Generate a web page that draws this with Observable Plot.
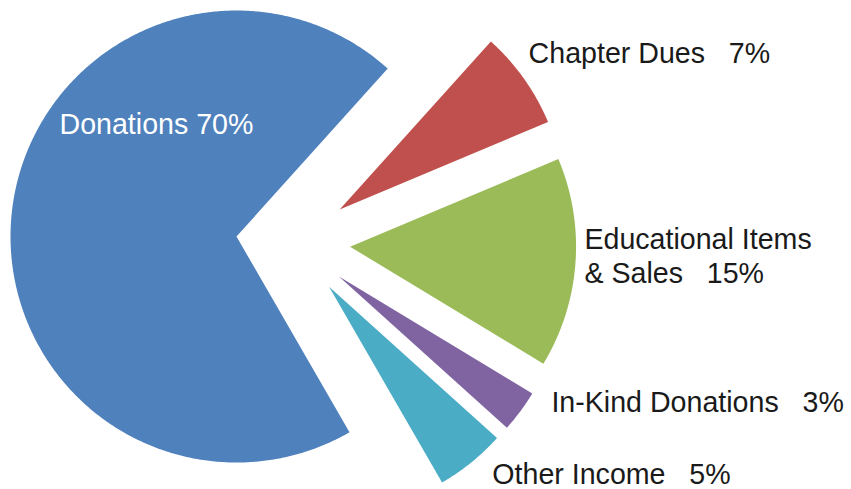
<!DOCTYPE html>
<html>
<head>
<meta charset="utf-8">
<script src="https://cdn.jsdelivr.net/npm/d3@7"></script>
<script src="https://cdn.jsdelivr.net/npm/@observablehq/plot@0.6"></script>
<style>
  html, body { margin: 0; padding: 0; background: #ffffff; }
  #chart svg { display: block; }
</style>
</head>
<body>
<div id="chart"></div>
<script>
// ---- data ----
const categories = ["Donations", "Chapter Dues", "Educational Items & Sales", "In-Kind Donations", "Other Income"];
const labelNames = ["Donations", "Chapter Dues", "Educational Items\n& Sales", "In-Kind Donations", "Other Income"];
const values = [70, 7, 15, 3, 5];
const colors = ["#4F81BD", "#C0504D", "#9BBB59", "#8064A2", "#4BACC6"];

// ---- layout ----
const W = 851, H = 489;
const R = 226;              // pie radius in px
const CX = 292.7, CY = 242; // pie centre in px
const startDeg = 150;       // first slice starts here (clockwise from north)
const explode = 57 / R;     // explosion distance in radius units
const FS = 28.6;
// label nudges in px (screen coords: +x right, +y down), relative to the anchor point
const labelNudge = [
  {dx: -177, dy: -103, inside: true},
  {dx: 4.7, dy: -16},
  {dx: 9, dy: 19.6},
  {dx: 31, dy: 1},
  {dx: 21, dy: 21.5}
];

const rad = d => d * Math.PI / 180;
const total = d3.sum(values);
const slices = [];
let a = startDeg;
values.forEach((v, i) => {
  const a0 = a, a1 = a + v / total * 360;
  a = a1;
  slices.push({name: categories[i], value: v, a0, a1, mid: (a0 + a1) / 2, i});
});

const pts = [];
for (const s of slices) {
  const m = rad(s.mid);
  const cx = explode * Math.sin(m), cy = explode * Math.cos(m);
  pts.push({name: s.name, x: cx, y: cy});
  const n = Math.max(8, Math.ceil((s.a1 - s.a0) / 0.5));
  for (let k = 0; k <= n; k++) {
    const t = rad(s.a0 + (s.a1 - s.a0) * k / n);
    pts.push({name: s.name, x: cx + Math.sin(t), y: cy + Math.cos(t)});
  }
  pts.push({name: s.name, x: cx, y: cy});
}

const labels = slices.map(s => {
  const m = rad(s.mid);
  const nudge = labelNudge[s.i];
  let bx, by;
  if (nudge.inside) {
    bx = explode * Math.sin(m); by = explode * Math.cos(m);
  } else {
    bx = (1 + explode) * Math.sin(m); by = (1 + explode) * Math.cos(m);
  }
  return {
    x: bx + nudge.dx / R,
    y: by - nudge.dy / R,
    text: labelNames[s.i] + (nudge.inside ? " " : "\u00a0\u00a0\u00a0") + s.value + "%",
    inside: !!nudge.inside
  };
});

const font = "'Liberation Sans', Arial, Helvetica, sans-serif";

const chart = Plot.plot({
  width: W,
  height: H,
  margin: 0,
  style: {background: "#ffffff", fontFamily: font},
  x: {domain: [-CX / R, (W - CX) / R], axis: null},
  y: {domain: [-(H - CY) / R, CY / R], axis: null},
  color: {domain: categories, range: colors},
  marks: [
    Plot.line(pts, {x: "x", y: "y", z: "name", fill: "name", stroke: "none", curve: "linear"}),
    Plot.text(labels.filter(d => d.inside), {
      x: "x", y: "y", text: "text", fill: "#ffffff",
      textAnchor: "start", lineAnchor: "bottom", fontSize: FS, fontFamily: font
    }),
    Plot.text(labels.filter(d => !d.inside), {
      x: "x", y: "y", text: "text", fill: "#1a1a1a",
      textAnchor: "start", lineAnchor: "bottom", fontSize: FS, lineHeight: 34 / FS, fontFamily: font
    })
  ]
});
document.getElementById("chart").appendChild(chart);
</script>
</body>
</html>
